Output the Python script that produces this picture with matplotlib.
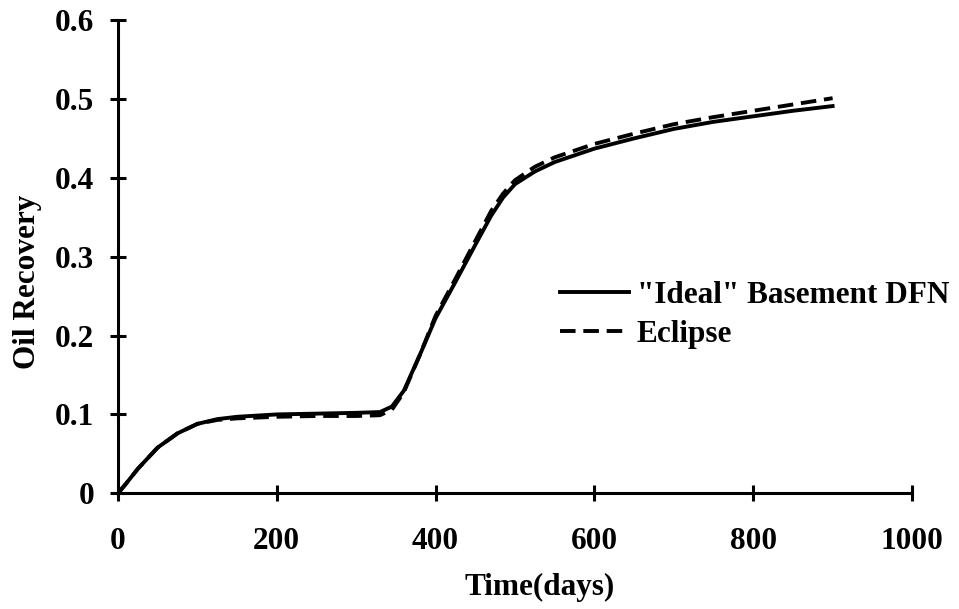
import numpy as np
import matplotlib
matplotlib.use("Agg")
import matplotlib.pyplot as plt

# values
t_dfn = [0, 10, 25, 50, 75, 100, 125, 150, 200, 250, 300, 330, 345, 360, 380, 400,
         425, 450, 470, 485, 500, 525, 550, 600, 650, 700, 750, 800, 850, 900]
rec_dfn = [0, 0.012, 0.031, 0.058, 0.076, 0.088, 0.094, 0.097, 0.1, 0.101, 0.102, 0.103,
           0.11, 0.13, 0.175, 0.222, 0.268, 0.315, 0.352, 0.375, 0.392, 0.408, 0.42,
           0.437, 0.45, 0.462, 0.471, 0.478, 0.485, 0.491]

t_ecl = [0, 10, 25, 50, 75, 100, 125, 150, 200, 250, 300, 330, 345, 360, 380, 400,
         425, 450, 470, 485, 500, 525, 550, 600, 650, 700, 750, 800, 850, 900]
rec_ecl = [0, 0.012, 0.031, 0.058, 0.076, 0.088, 0.093, 0.095, 0.097, 0.098, 0.098, 0.099,
           0.106, 0.128, 0.175, 0.225, 0.272, 0.32, 0.358, 0.38, 0.397, 0.414, 0.426,
           0.443, 0.456, 0.468, 0.477, 0.485, 0.493, 0.501]

plt.rcParams['font.family'] = ['Liberation Serif', 'DejaVu Serif']
plt.rcParams['font.weight'] = 'bold'

FS = 22.5

fig = plt.figure(figsize=(9.59, 6.09), dpi=100)
ax = fig.add_axes([0.123, 0.19, 0.828, 0.777])

ax.plot(t_dfn, rec_dfn, '-', color='black', lw=2.8, label='"Ideal" Basement DFN')
ax.plot(t_ecl, rec_ecl, '--', color='black', lw=2.8, dashes=(4, 2), label='Eclipse')

ax.set_xlim(0, 1000)
ax.set_ylim(0, 0.6)
ax.set_xticks(np.arange(0, 1001, 200))
ax.set_yticks(np.arange(0, 0.61, 0.1))
ax.set_yticklabels(['0', '0.1', '0.2', '0.3', '0.4', '0.5', '0.6'])
ax.spines['top'].set_visible(False)
ax.spines['right'].set_visible(False)
for s in ['left', 'bottom']:
    ax.spines[s].set_linewidth(2.2)
ax.tick_params(direction='inout', length=12, width=2.2, labelsize=FS)
ax.tick_params(axis='x', pad=18)
ax.tick_params(axis='y', pad=11)
for lab in ax.get_xticklabels() + ax.get_yticklabels():
    lab.set_fontweight('bold')

ax.set_xlabel('Time(days)', fontsize=FS, fontweight='bold', va='center')
ax.xaxis.set_label_coords(0.531, -0.199)
ax.set_ylabel('Oil Recovery', fontsize=FS, fontweight='bold', va='center')
ax.yaxis.set_label_coords(-0.114, 0.446)

ax.legend(loc='upper left', bbox_to_anchor=(0.557, 0.448), frameon=False,
          handlelength=2.2, handletextpad=0.25, labelspacing=0.3,
          borderpad=0, borderaxespad=0,
          prop={'weight': 'bold', 'size': 22.5})

fig.savefig('out.png', dpi=100)
